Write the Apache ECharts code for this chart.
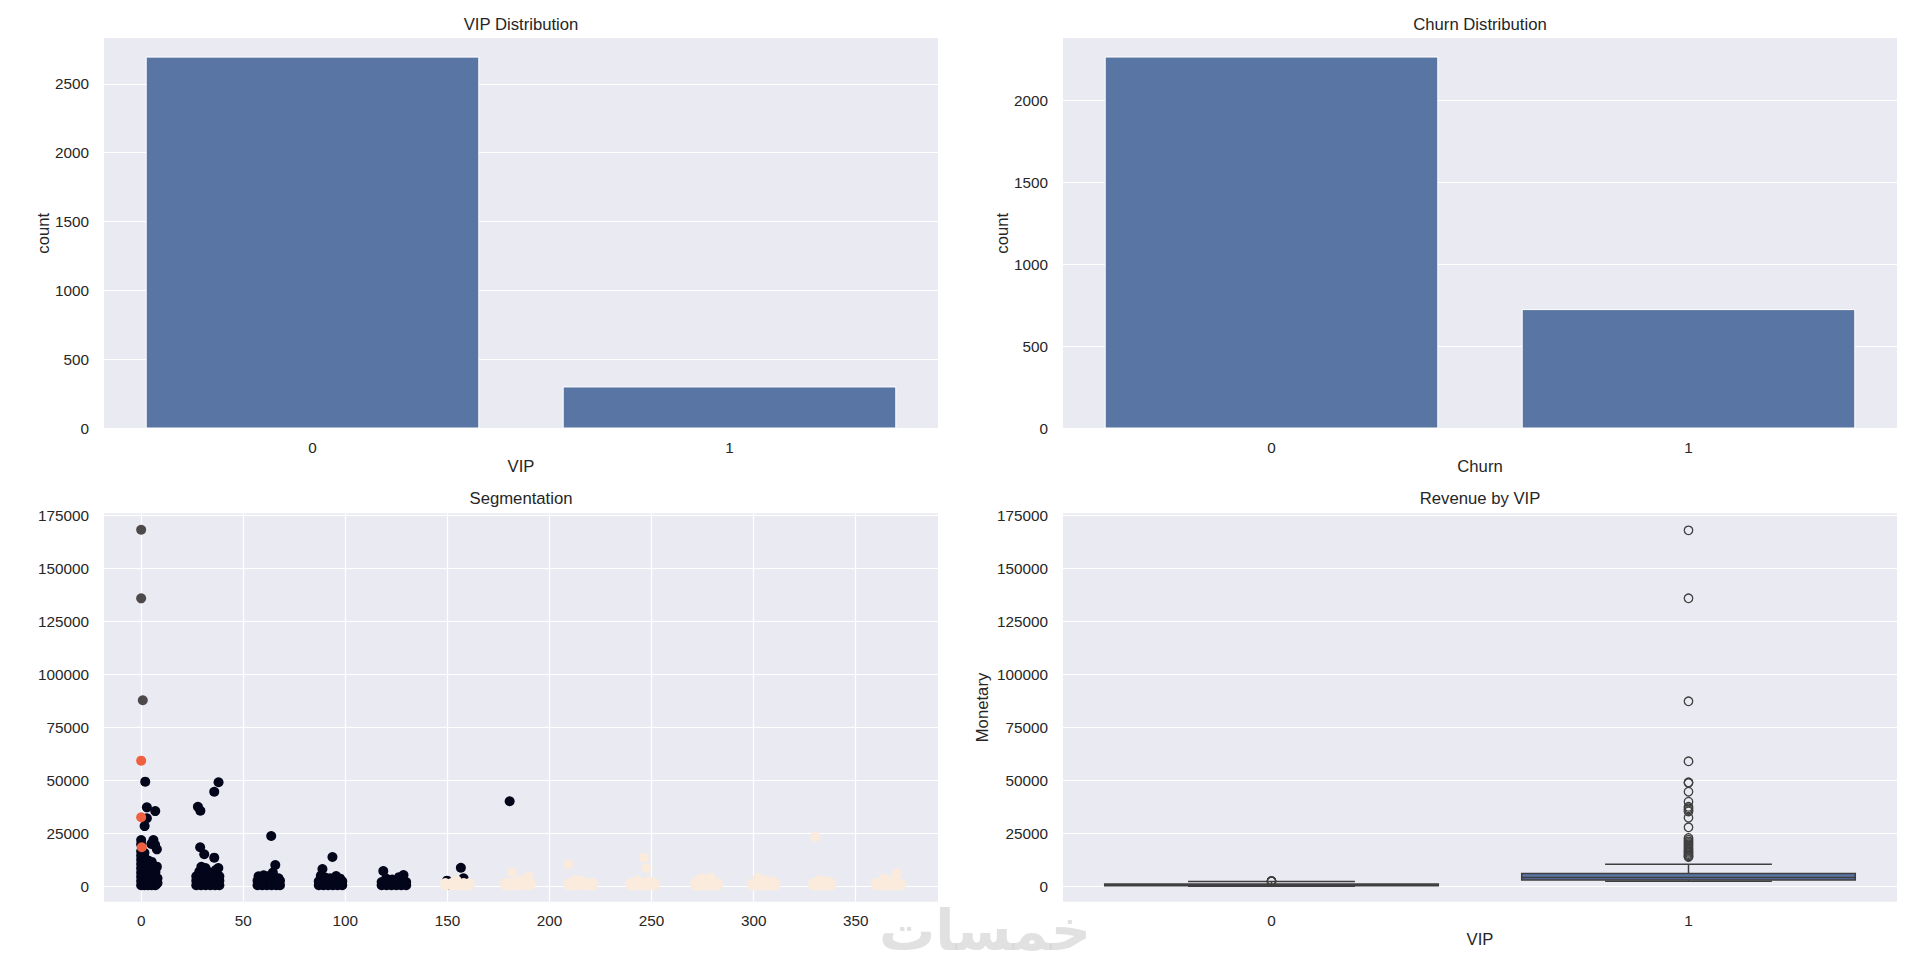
<!DOCTYPE html>
<html><head><meta charset="utf-8">
<script src="https://cdn.jsdelivr.net/npm/echarts@6/dist/echarts.min.js"></script>
<style>html,body{margin:0;padding:0;background:#fff;} #c{width:1920px;height:967px;}</style>
</head><body><div id="c"></div>
<script>
// ---------- data ----------
const vipCats = ['0', '1'];
const vipCounts = [2697, 305];
const churnCats = ['0', '1'];
const churnCounts = [2268, 728];
const vipCountTicks = [0, 500, 1000, 1500, 2000, 2500];
const churnCountTicks = [0, 500, 1000, 1500, 2000];
const monetaryTicks = [0, 25000, 50000, 75000, 100000, 125000, 150000, 175000];
const recencyTicks = [0, 50, 100, 150, 200, 250, 300, 350];

// Segmentation scatter: [Recency, Monetary] per cluster
const segDark = [
 [0,500],[0,2500],[0,4500],[0,6500],[0,8500],[0,10500],[0,12500],[0,14500],[0,16500],[0,19800],[0,21800],
 [1.6,500],[1.6,2600],[1.6,4800],[1.6,7000],[1.6,9200],[1.6,11400],[1.6,13600],[1.6,15800],
 [3.4,500],[3.4,2800],[3.4,5200],[3.4,7600],[3.4,10000],[3.4,12200],
 [5.2,500],[5.2,2600],[5.2,4800],[5.2,7000],[5.2,9500],[5.2,11500],
 [7,500],[7,2500],[7,4600],[7,6800],[8,1500],[8,3800],[7.7,9250],
 [6,21800],[5,20000],[6.8,19600],[7.7,17450],
 [2,49340],[2.8,37260],[6.9,35470],[2.8,32100],[1.7,28400],
 [27,500],[27,2600],[27,4700],[29.3,500],[29.3,2600],[29.3,4700],[31.6,500],[31.6,2600],[31.6,4700],
 [33.9,500],[33.9,2600],[33.9,4700],[36.2,500],[36.2,2600],[36.2,4700],[38.3,500],[38.3,2600],[38.3,4700],
 [28.5,7000],[29.5,9200],[31.5,8600],[33,6800],[36.5,7600],[35,5800],[37.8,8600],
 [27.8,37500],[29,35650],[35.8,44620],[37.9,49060],[28.9,18400],[30.9,15100],[35.8,13500],
 [57,500],[57,2600],[59.3,500],[59.3,2600],[61.6,500],[61.6,2600],[63.9,500],[63.9,2600],[66.2,500],[66.2,2600],[68,500],[68,2600],
 [57.5,4700],[60,5200],[62.5,4800],[65,4400],[67.3,3800],[64.5,6500],[63.7,23730],[65.7,10050],
 [87,500],[87,2400],[89.3,500],[89.3,2400],[91.6,500],[91.6,2400],[93.9,500],[93.9,2400],[96.2,500],[96.2,2400],[98.5,500],[98.5,2400],
 [88,5000],[90,4200],[92.5,3800],[95.5,4800],[97.5,3600],[88.8,8160],[93.7,13820],
 [117.8,500],[117.8,2000],[120.2,500],[120.2,2000],[122.6,500],[122.6,2000],[125,500],[125,2000],[127.4,500],[127.4,2000],[129.8,500],[129.8,2000],
 [120,3700],[123,3200],[126.3,4300],[118.6,7200],[128.5,5300],
 [149.8,2640],[157.9,3770],[156.6,8770],[151,800],
 [180.5,40100]
];
const segCream = [
 [149,400],[149,1500],[152,400],[152,1500],[155,400],[155,1500],[158,400],[158,1500],[160.8,400],[160.8,1500],[154.5,2800],
 [178.2,400],[178.2,1500],[181.3,400],[181.3,1500],[184.4,400],[184.4,1500],[187.5,400],[187.5,1500],[190.6,400],[190.6,1500],[185,2800],[188.5,3000],[181.6,6600],[189.8,4530],
 [209.4,400],[209.4,1500],[212.4,400],[212.4,1500],[215.4,400],[215.4,1500],[218.4,400],[218.4,1500],[221.3,400],[221.3,1500],[212.5,3000],[216,2600],[209.4,10380],
 [239.6,400],[239.6,1500],[242.6,400],[242.6,1500],[245.6,400],[245.6,1500],[248.6,400],[248.6,1500],[251.5,400],[251.5,1500],[243,2800],[249,2500],[247.4,8490],[246.4,13500],
 [271.4,400],[271.4,1500],[274.2,400],[274.2,1500],[277,400],[277,1500],[279.8,400],[279.8,1500],[282.5,400],[282.5,1500],[274.5,3800],[279,4000],[277,2800],[272.5,2700],
 [299.5,400],[299.5,1500],[302.3,400],[302.3,1500],[305.1,400],[305.1,1500],[307.9,400],[307.9,1500],[310.6,400],[310.6,1500],[302,3900],[305,2800],[309,2500],
 [329.2,400],[329.2,1500],[331.6,400],[331.6,1500],[334,400],[334,1500],[336.4,400],[336.4,1500],[338,400],[338,1500],[332,2800],[336,2500],[330.2,23400],
 [360,400],[360,1500],[363,400],[363,1500],[366,400],[366,1500],[369,400],[369,1500],[372,400],[372,1500],[368,2800],[363.7,3770],[370.2,6130]
];
const segOrange = [[0,59250],[0,32550],[0.3,18400]];
const segGray = [[0,168200],[0,135850],[0.8,87740]];

// Revenue by VIP box statistics: [low whisker, Q1, median, Q3, high whisker]
const boxCats = ['0', '1'];
const boxVip0 = [0, 300, 600, 1100, 2250];
const boxVip1 = [2400, 3000, 4100, 6000, 10400];
const outliersVip0 = [2320, 2380, 2450, 2520];
const outliersVip1 = [167900, 135850, 87270, 58960, 49060, 48700, 44620, 39910, 37500, 36800, 36000, 35300,
  32370, 27830, 22800, 22000, 21200, 20500, 19800, 19100, 18400, 17700, 17000, 16400, 15800, 15200, 14600, 14100, 13800];

// ---------- styles ----------
const FONT = '"Liberation Sans", Arial, "DejaVu Sans", sans-serif';
const TXT = '#262626';
const BG = '#EAEAF2';
const BAR = '#5975A4';
const LINE = '#3f3f3f';
const TICK_FS = 15.3, LABEL_FS = 16.7;

const grids = [
  {left: 104, top: 38, width: 834, height: 390.5},
  {left: 1063, top: 38, width: 834, height: 390.5},
  {left: 104, top: 513.3, width: 834, height: 388.4},
  {left: 1063, top: 513.3, width: 834, height: 388.4}
].map(g => Object.assign({show: true, backgroundColor: BG, borderWidth: 0, containLabel: false, outerBoundsMode: 'none'}, g));

const fmt = v => String(v);
function catX(gi, cats, name) {
  return {
    type: 'category', gridIndex: gi, data: cats, boundaryGap: true,
    axisLine: {show: false}, axisTick: {show: false}, splitLine: {show: false},
    axisLabel: {margin: 11, fontSize: TICK_FS, color: TXT, fontFamily: FONT},
    name: name, nameLocation: 'middle', nameGap: 29.5, nameMoveOverlap: false,
    nameTextStyle: {fontSize: LABEL_FS, color: TXT, fontFamily: FONT}
  };
}
function valY(gi, min, max, ticks, name, gap) {
  return {
    type: 'value', gridIndex: gi, min: min, max: max,
    axisLine: {show: false}, axisTick: {show: false, customValues: ticks},
    axisLabel: {customValues: ticks, formatter: fmt, margin: 15, fontSize: TICK_FS, color: TXT, fontFamily: FONT},
    splitLine: {show: true, lineStyle: {color: '#ffffff', width: 1.2}},
    name: name || '', nameLocation: 'middle', nameGap: gap || 50, nameMoveOverlap: false,
    nameTextStyle: {fontSize: LABEL_FS, color: TXT, fontFamily: FONT}
  };
}
const titleStyle = {fontSize: LABEL_FS, fontWeight: 'normal', color: TXT, fontFamily: FONT};

const boxData = [[0].concat(boxVip0), [1].concat(boxVip1)];

const option = {
  animation: false,
  backgroundColor: '#ffffff',
  title: [
    {text: 'VIP Distribution', left: 521, top: 15.5, textAlign: 'center', padding: 0, textStyle: titleStyle},
    {text: 'Churn Distribution', left: 1480, top: 15.5, textAlign: 'center', padding: 0, textStyle: titleStyle},
    {text: 'Segmentation', left: 521, top: 490, textAlign: 'center', padding: 0, textStyle: titleStyle},
    {text: 'Revenue by VIP', left: 1480, top: 490, textAlign: 'center', padding: 0, textStyle: titleStyle}
  ],
  grid: grids,
  xAxis: [
    catX(0, vipCats, 'VIP'),
    catX(1, churnCats, 'Churn'),
    {
      type: 'value', gridIndex: 2, min: -18.2, max: 390.3,
      axisLine: {show: false}, axisTick: {show: false, customValues: recencyTicks},
      axisLabel: {customValues: recencyTicks, formatter: fmt, margin: 11, fontSize: TICK_FS, color: TXT, fontFamily: FONT},
      splitLine: {show: true, lineStyle: {color: '#ffffff', width: 1.2}}
    },
    catX(3, boxCats, 'VIP')
  ],
  yAxis: [
    valY(0, 0, 2832, vipCountTicks, 'count', 52),
    valY(1, 0, 2381, churnCountTicks, 'count', 52),
    valY(2, -7264, 175943, monetaryTicks, '', 50),
    valY(3, -7264, 175943, monetaryTicks, 'Monetary', 72)
  ],
  series: [
    {type: 'bar', xAxisIndex: 0, yAxisIndex: 0, data: vipCounts, barWidth: '80%',
     itemStyle: {color: BAR, borderColor: '#ffffff', borderWidth: 1}},
    {type: 'bar', xAxisIndex: 1, yAxisIndex: 1, data: churnCounts, barWidth: '80%',
     itemStyle: {color: BAR, borderColor: '#ffffff', borderWidth: 1}},
    {type: 'scatter', xAxisIndex: 2, yAxisIndex: 2, data: segDark, symbolSize: 10,
     itemStyle: {color: '#03051A', opacity: 1}},
    {type: 'scatter', xAxisIndex: 2, yAxisIndex: 2, data: segCream, symbolSize: 10,
     itemStyle: {color: '#FAEBDD', opacity: 1}},
    {type: 'scatter', xAxisIndex: 2, yAxisIndex: 2, data: segOrange, symbolSize: 10,
     itemStyle: {color: '#EF6041', opacity: 1}},
    {type: 'scatter', xAxisIndex: 2, yAxisIndex: 2, data: segGray, symbolSize: 10,
     itemStyle: {color: '#4E4A4B', opacity: 1}},
    {type: 'custom', xAxisIndex: 3, yAxisIndex: 3, data: boxData,
     encode: {x: 0, y: [1, 2, 3, 4, 5]},
     renderItem: function (params, api) {
       const xi = api.value(0);
       const lo = api.coord([xi, api.value(1)]);
       const q1 = api.coord([xi, api.value(2)]);
       const md = api.coord([xi, api.value(3)]);
       const q3 = api.coord([xi, api.value(4)]);
       const hi = api.coord([xi, api.value(5)]);
       const band = api.coord([1, 0])[0] - api.coord([0, 0])[0];
       const bw = band * 0.8, cw = band * 0.4, cx = lo[0];
       const st = {stroke: LINE, lineWidth: 1.5, fill: null};
       return {type: 'group', children: [
         {type: 'line', shape: {x1: cx, y1: q3[1], x2: cx, y2: hi[1]}, style: st},
         {type: 'line', shape: {x1: cx, y1: lo[1], x2: cx, y2: q1[1]}, style: st},
         {type: 'line', shape: {x1: cx - cw / 2, y1: hi[1], x2: cx + cw / 2, y2: hi[1]}, style: st},
         {type: 'line', shape: {x1: cx - cw / 2, y1: lo[1], x2: cx + cw / 2, y2: lo[1]}, style: st},
         {type: 'rect', shape: {x: cx - bw / 2, y: q3[1], width: bw, height: q1[1] - q3[1]},
          style: {fill: BAR, stroke: LINE, lineWidth: 1.5}},
         {type: 'line', shape: {x1: cx - bw / 2, y1: md[1], x2: cx + bw / 2, y2: md[1]}, style: st}
       ]};
     }},
    {type: 'scatter', xAxisIndex: 3, yAxisIndex: 3, symbolSize: 8.5,
     data: outliersVip0.map(v => [0, v]).concat(outliersVip1.map(v => [1, v])),
     itemStyle: {color: 'rgba(0,0,0,0)', borderColor: LINE, borderWidth: 1.3, opacity: 1}}
  ],
  graphic: [
    {type: 'text', x: 985, y: 930, z: 100, silent: true,
     style: {text: 'خمسات', font: 'bold 56px "DejaVu Sans"', fill: 'rgba(200,200,200,0.55)',
             textAlign: 'center', textVerticalAlign: 'middle'}}
  ]
};

const chart = echarts.init(document.getElementById('c'), null, {renderer: 'svg', width: 1920, height: 967});
chart.setOption(option);
</script></body></html>
